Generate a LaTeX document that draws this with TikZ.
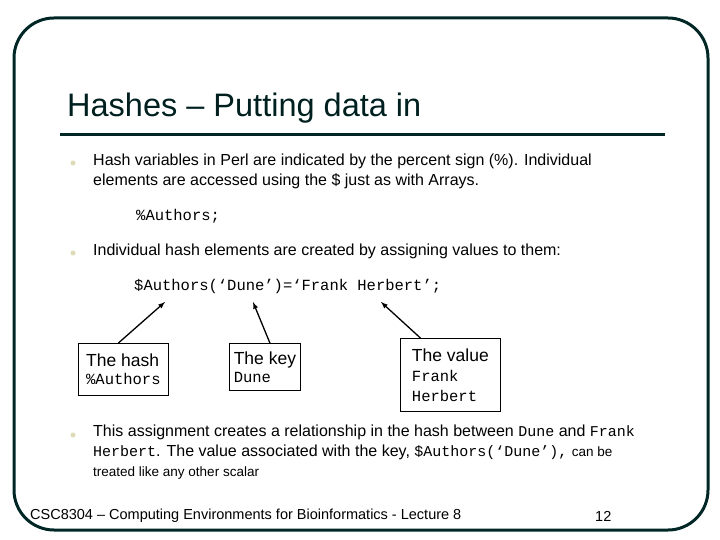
\documentclass[tikz,border=0pt]{standalone}
\usepackage{fontspec}
\setmainfont{Liberation Sans}
\newfontfamily\cour{Liberation Mono}
\begin{document}
\begin{tikzpicture}[x=1pt,y=-1pt,
  txt/.style={anchor=west,inner sep=0pt,font=\fontsize{16}{20}\selectfont},
  mono/.style={anchor=west,inner sep=0pt,font=\cour\fontsize{15.5}{18}\selectfont},
  bul/.style={circle,fill=gray!40!olive!30,inner sep=0pt,minimum size=5pt},
  lbox/.style={draw,line width=0.8pt,anchor=north west,align=left,inner sep=4pt},
  arr/.style={-latex,line width=1.3pt}]
\useasboundingbox (0,0) rectangle (720,540);
\draw[line width=3pt,color=black!70!teal,rounded corners=40pt] (14,18) rectangle (708,530);
\node[anchor=west,inner sep=0pt,font=\fontsize{32.5}{36}\selectfont,color=black!75!teal] (title) at (67,108) {Hashes -- Putting data in};
\draw[line width=3pt,color=black!70!teal] (60,135) -- (665,135);
\node[bul] (b1) at (73,163) {};
\node[txt,align=left,anchor=north west] (t1) at (93,154) {Hash variables in Perl are indicated by the percent sign (\%). Individual\\elements are accessed using the \$ just as with Arrays.};
\node[mono] (c1) at (136,216) {\%Authors;};
\node[bul] (b2) at (73,253) {};
\node[txt] (t2) at (93,251) {Individual hash elements are created by assigning values to them:};
\node[mono] (c2) at (134,286) {\$Authors(‘Dune’)=‘Frank Herbert’;};
\coordinate (p1) at (165,302);
\coordinate (p2) at (253,302);
\coordinate (p3) at (381,302);
\node[lbox,minimum width=90pt,minimum height=52pt,font=\fontsize{17.5}{20}\selectfont] (h) at (78,343) {The hash\\[-2pt]\cour\fontsize{15.5}{17}\selectfont \%Authors};
\node[lbox,minimum width=71pt,minimum height=47pt,font=\fontsize{17.5}{20}\selectfont] (k) at (229,343) {The key\\[-2pt]\cour\fontsize{15.5}{17}\selectfont Dune};
\node[lbox,minimum width=100pt,minimum height=73pt,font=\fontsize{17.5}{20}\selectfont] (v) at (400,338) {The value\\\cour\fontsize{15.5}{22}\selectfont Frank\\\cour\fontsize{15.5}{22}\selectfont Herbert};
\draw[arr] ([xshift=-5pt]h.north) -- (p1);
\draw[arr] ([xshift=5pt]k.north) -- (p2);
\draw[arr] ([xshift=-30pt]v.north) -- (p3);
\node[bul] (b3) at (73,435) {};
\node[txt,align=left,anchor=north west] (t3) at (93,425) {This assignment creates a relationship in the hash between {\cour\fontsize{15}{18}\selectfont Dune} and {\cour\fontsize{15}{18}\selectfont Frank}\\{\cour\fontsize{15}{18}\selectfont Herbert}. The value associated with the key, {\cour\fontsize{15}{18}\selectfont \$Authors(‘Dune’),} {\fontsize{13.5}{18}\selectfont can be}\\\fontsize{13.5}{18}\selectfont treated like any other scalar};
\node[anchor=west,inner sep=0pt,font=\fontsize{14.5}{16}\selectfont] (f) at (30,516) {CSC8304 -- Computing Environments for Bioinformatics - Lecture 8};
\node[anchor=west,inner sep=0pt,font=\fontsize{14.5}{16}\selectfont] (n) at (595,516) {12};
\end{tikzpicture}
\end{document}
